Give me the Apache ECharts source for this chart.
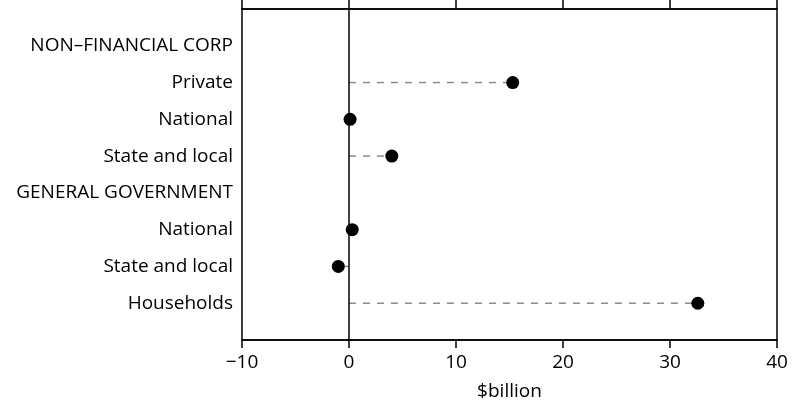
<!DOCTYPE html>
<html>
<head>
<meta charset="utf-8">
<script src="https://cdn.jsdelivr.net/npm/echarts@6/dist/echarts.min.js"></script>
<style>
html,body{margin:0;padding:0;background:#fff;}
#chart{width:798px;height:407px;}
</style>
</head>
<body>
<div id="chart"></div>
<script>
var categories = ['', 'NON\u2013FINANCIAL CORP', 'Private', 'National', 'State and local', 'GENERAL GOVERNMENT', 'National', 'State and local', 'Households', ''];
var pointIndex = [2, 3, 4, 6, 7, 8];
var pointValues = [15.3, 0.1, 4.0, 0.3, -1.0, 32.6];
var xTickValues = [-10, 0, 10, 20, 30, 40];
var xTickLabels = ['\u221210', '0', '10', '20', '30', '40'];
var xAxisName = '$billion';

var FONT = '"Open Sans", sans-serif';
var points = pointValues.map(function (v, i) { return [v, pointIndex[i]]; });

var chart = echarts.init(document.getElementById('chart'), null, {renderer: 'canvas'});
chart.setOption({
  animation: false,
  backgroundColor: '#fff',
  grid: {left: 242, right: 21, top: 9, bottom: 67, show: true, borderColor: '#000', borderWidth: 1.5, containLabel: false},
  xAxis: [{
    type: 'value', position: 'bottom', min: -10, max: 40, interval: 10,
    axisLine: {show: true, lineStyle: {color: '#000', width: 1.5}},
    axisTick: {show: true, inside: false, length: 8, lineStyle: {color: '#000', width: 1.5}},
    splitLine: {show: false},
    axisLabel: {
      margin: 13, color: '#000', fontFamily: FONT, fontSize: 19,
      formatter: function (v) { var k = xTickValues.indexOf(v); return k >= 0 ? xTickLabels[k] : ''; }
    },
    name: xAxisName, nameLocation: 'middle', nameGap: 42,
    nameTextStyle: {color: '#000', fontFamily: FONT, fontSize: 19}
  }, {
    type: 'value', position: 'top', min: -10, max: 40, interval: 10,
    axisLine: {show: true, lineStyle: {color: '#000', width: 1.5}},
    axisTick: {show: true, inside: false, length: 9, lineStyle: {color: '#000', width: 1.5}},
    splitLine: {show: false},
    axisLabel: {show: false}
  }],
  yAxis: {
    type: 'category', data: categories, inverse: true, boundaryGap: false,
    axisLine: {show: false}, axisTick: {show: false}, splitLine: {show: false},
    axisLabel: {margin: 9, color: '#000', fontFamily: FONT, fontSize: 19, interval: 0}
  },
  series: [{
    type: 'custom',
    renderItem: function (params, api) {
      var a = api.coord([0, api.value(1)]);
      var b = api.coord([api.value(0), api.value(1)]);
      return {
        type: 'line',
        shape: {x1: a[0], y1: a[1], x2: b[0], y2: b[1]},
        style: {stroke: '#8c8c8c', lineWidth: 1.5, lineDash: [7, 7]}
      };
    },
    data: points,
    z: 2
  }, {
    type: 'scatter',
    data: [],
    markLine: {
      silent: true, symbol: 'none', label: {show: false},
      lineStyle: {color: '#000', width: 1.5, type: 'solid', opacity: 1},
      data: [{xAxis: 0}]
    },
    z: 3
  }, {
    type: 'scatter', data: points, symbol: 'circle', symbolSize: 13,
    itemStyle: {color: '#000', opacity: 1}, z: 5
  }]
});
</script>
</body>
</html>
